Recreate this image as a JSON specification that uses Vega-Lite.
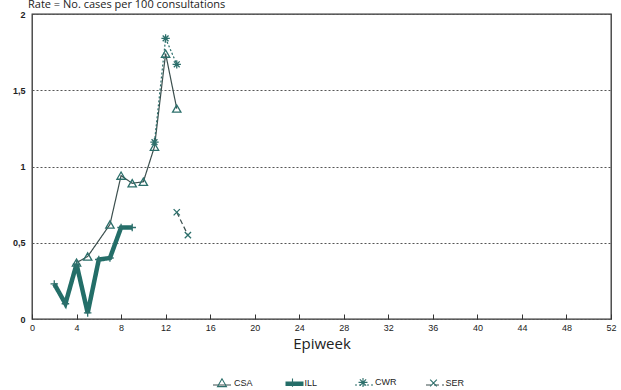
{
  "$schema": "https://vega.github.io/schema/vega-lite/v6.json",
  "width": 579,
  "height": 305,
  "autosize": "none",
  "padding": {"left": 32, "top": 14, "right": 10, "bottom": 71},
  "background": "white",
  "config": {
    "view": {"stroke": "#333", "strokeWidth": 1.3},
    "font": "Liberation Sans"
  },
  "title": {
    "text": "Rate = No. cases per 100 consultations",
    "anchor": "start",
    "frame": "group",
    "dx": -4,
    "offset": 0,
    "font": "Open Sans",
    "fontSize": 11,
    "fontWeight": "normal",
    "color": "#222"
  },
  "data": {
    "values": [
      {"series": "CSA", "week": 4, "rate": 0.37},
      {"series": "CSA", "week": 5, "rate": 0.41},
      {"series": "CSA", "week": 7, "rate": 0.62},
      {"series": "CSA", "week": 8, "rate": 0.94},
      {"series": "CSA", "week": 9, "rate": 0.89},
      {"series": "CSA", "week": 10, "rate": 0.9},
      {"series": "CSA", "week": 11, "rate": 1.13},
      {"series": "CSA", "week": 12, "rate": 1.74},
      {"series": "CSA", "week": 13, "rate": 1.38},
      {"series": "ILL", "week": 2, "rate": 0.23},
      {"series": "ILL", "week": 3, "rate": 0.1},
      {"series": "ILL", "week": 4, "rate": 0.36},
      {"series": "ILL", "week": 5, "rate": 0.04},
      {"series": "ILL", "week": 6, "rate": 0.39},
      {"series": "ILL", "week": 7, "rate": 0.4},
      {"series": "ILL", "week": 8, "rate": 0.6},
      {"series": "ILL", "week": 9, "rate": 0.6},
      {"series": "CWR", "week": 11, "rate": 1.16},
      {"series": "CWR", "week": 12, "rate": 1.84},
      {"series": "CWR", "week": 13, "rate": 1.67},
      {"series": "SER", "week": 13, "rate": 0.7},
      {"series": "SER", "week": 14, "rate": 0.55}
    ]
  },
  "encoding": {
    "x": {
      "field": "week",
      "type": "quantitative",
      "scale": {"domain": [0, 52], "nice": false, "zero": false},
      "axis": {
        "values": [0, 4, 8, 12, 16, 20, 24, 28, 32, 36, 40, 44, 48, 52],
        "title": "Epiweek",
        "titleFont": "Open Sans",
        "titleFontSize": 15,
        "titleFontWeight": "normal",
        "titleColor": "#222",
        "titlePadding": 4,
        "labelFontSize": 9,
        "labelColor": "#222",
        "labelPadding": 9,
        "tickSize": -5,
        "tickColor": "#333",
        "domain": false,
        "grid": false,
        "labelFlush": false
      }
    },
    "y": {
      "field": "rate",
      "type": "quantitative",
      "scale": {"domain": [0, 2], "nice": false},
      "axis": {
        "values": [0, 0.5, 1, 1.5, 2],
        "labelExpr": "replace(format(datum.value, '~g'), '.', ',')",
        "title": null,
        "labelFontSize": 9,
        "labelFontWeight": "bold",
        "labelColor": "#222",
        "labelPadding": 7,
        "ticks": false,
        "domain": false,
        "grid": true,
        "gridDash": [2, 2],
        "gridColor": "#555",
        "gridWidth": 1
      }
    }
  },
  "layer": [
    {
      "mark": {"type": "line"},
      "encoding": {
        "detail": {"field": "series"},
        "color": {
          "field": "series",
          "type": "nominal",
          "scale": {"domain": ["ILL", "CSA", "CWR", "SER"], "range": ["#236e68", "#3c4f4e", "#2c6f6b", "#3c4f4e"]},
          "legend": {"title": null, "orient": "none", "legendX": 180, "legendY": 358, "direction": "horizontal", "values": ["CSA", "ILL", "CWR", "SER"], "gridAlign": "all", "columnPadding": 34, "symbolSize": 324, "symbolType": "stroke", "labelOffset": 0, "labelFontSize": 9, "labelExpr": "''"}
        },
        "strokeWidth": {
          "field": "series",
          "type": "nominal",
          "scale": {"type": "ordinal", "domain": ["ILL", "CSA", "CWR", "SER"], "range": [4.5, 1.2, 1.2, 1.2]},
          "legend": {"title": null, "orient": "none", "legendX": 180, "legendY": 358, "direction": "horizontal", "values": ["CSA", "ILL", "CWR", "SER"], "gridAlign": "all", "columnPadding": 34, "symbolSize": 324, "symbolType": "stroke", "labelOffset": 0, "labelFontSize": 9, "labelExpr": "''"}
        },
        "strokeDash": {
          "field": "series",
          "type": "nominal",
          "scale": {"domain": ["ILL", "CSA", "CWR", "SER"], "range": [[1, 0], [1, 0], [2, 2], [5, 3]]},
          "legend": {"title": null, "orient": "none", "legendX": 180, "legendY": 358, "direction": "horizontal", "values": ["CSA", "ILL", "CWR", "SER"], "gridAlign": "all", "columnPadding": 34, "symbolSize": 324, "symbolType": "stroke", "labelOffset": 0, "labelFontSize": 9, "labelExpr": "''"}
        }
      }
    },
    {
      "mark": {"type": "point", "filled": false, "strokeWidth": 1.3, "color": "#2c6f6b", "opacity": 1, "size": 70},
      "encoding": {
        "shape": {
          "field": "series",
          "type": "nominal",
          "scale": {
            "domain": ["CSA", "ILL", "CWR", "SER"],
            "range": [
              "triangle-up",
              "M-0.9,0L0.9,0M0,-0.9L0,0.9",
              "M-1,0L1,0M0,-1L0,1M-0.7,-0.7L0.7,0.7M-0.7,0.7L0.7,-0.7",
              "M-0.75,-0.75L0.75,0.75M-0.75,0.75L0.75,-0.75"
            ]
          },
          "legend": {
            "title": null,
            "orient": "none",
            "legendX": 184.5,
            "legendY": 362.5,
            "direction": "horizontal",
            "gridAlign": "all",
            "labelFontSize": 9,
            "labelColor": "#222",
            "columnPadding": 28.5,
            "symbolSize": 80,
            "symbolStrokeColor": "#2c6f6b",
            "symbolStrokeWidth": 1.1,
            "symbolFillColor": "white",
            "labelOffset": 6.6
          }
        }
      }
    }
  ]
}
